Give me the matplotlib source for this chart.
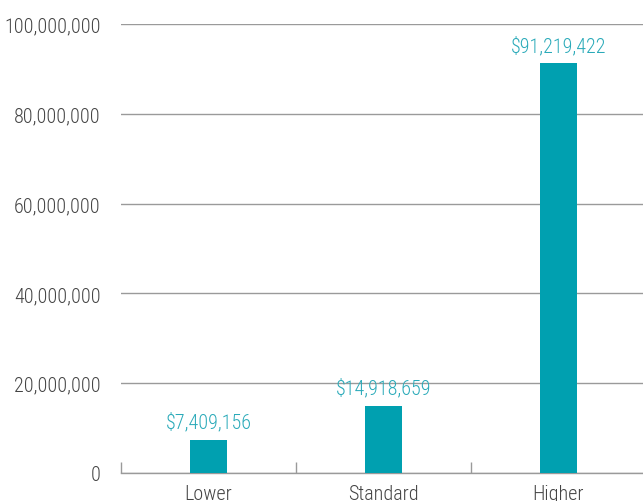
import matplotlib
matplotlib.use("Agg")
import matplotlib.pyplot as plt
from matplotlib import font_manager
from matplotlib.ticker import FuncFormatter

# Cost scenarios and their totals
scenarios = ["Lower", "Standard", "Higher"]
totals = [7409156, 14918659, 91219422]
y_ticks = [0, 20000000, 40000000, 60000000, 80000000, 100000000]

BAR_COLOR = "#00a0b0"
LABEL_COLOR = "#2aaab9"
TEXT_COLOR = "#444444"
GRID_COLOR = "#9a9a9a"

# prefer a condensed face if one is around
installed = {f.name for f in font_manager.fontManager.ttflist}
for fam in ["Roboto Condensed", "Liberation Sans Narrow", "Roboto"]:
    if fam in installed:
        plt.rcParams["font.family"] = [fam, "DejaVu Sans"]
        break
plt.rcParams["font.weight"] = "light"

fig = plt.figure(figsize=(6.43, 5.02), dpi=100)
ax = fig.add_axes([121 / 643, 28 / 502, 525 / 643, 449 / 502])

x = list(range(len(scenarios)))
ax.bar(x, totals, width=0.206, color=BAR_COLOR, zorder=3)

for xi, val in zip(x, totals):
    ax.annotate("${:,}".format(val), (xi, val), xytext=(0, 6), textcoords="offset points",
                ha="center", va="bottom", color=LABEL_COLOR, fontsize=14.5)

ax.set_xlim(-0.5, 2.5)
ax.set_ylim(0, 100000000)
ax.set_yticks(y_ticks)
ax.yaxis.set_major_formatter(FuncFormatter(lambda v, p: "{:,}".format(int(v))))
ax.grid(axis="y", color=GRID_COLOR, linewidth=1.0, zorder=0)

ax.set_xticks(x)
ax.set_xticklabels(scenarios)
ax.set_xticks([-0.5, 0.5, 1.5], minor=True)
ax.tick_params(axis="x", which="major", length=0, pad=8, labelsize=14.5, labelcolor=TEXT_COLOR)
ax.tick_params(axis="x", which="minor", direction="in", length=8, width=1, color=GRID_COLOR)
ax.tick_params(axis="y", length=0, pad=14.5, labelsize=14.5, labelcolor=TEXT_COLOR)

for side in ["top", "right", "left"]:
    ax.spines[side].set_visible(False)
ax.spines["bottom"].set_color(GRID_COLOR)
ax.spines["bottom"].set_linewidth(1.0)

fig.savefig("out.png", dpi=100)
